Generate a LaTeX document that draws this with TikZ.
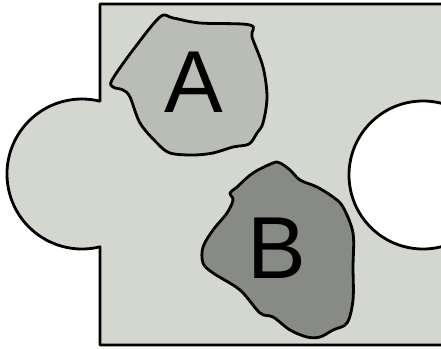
\documentclass[tikz,border=0pt]{standalone}
\usepackage{fontspec}
\setmainfont{Liberation Sans}
\definecolor{pieceC}{HTML}{D3D7CF}
\definecolor{blobA}{HTML}{BABDB6}
\definecolor{blobB}{HTML}{888A85}
\begin{document}
\begin{tikzpicture}[x=1pt,y=1pt,
  outl/.style={draw=black,line width=2.8pt,line join=round},
  lbl/.style={anchor=base,inner sep=0pt,font=\fontsize{88}{90}\selectfont}]
\useasboundingbox (0,0) rectangle (441,348);
\clip (0,0) rectangle (441,348);
% puzzle piece
\path[outl,fill=pieceC] (100,246.8) -- (100,344) -- (470,344) -- (470,3) -- (100,3) -- (100,101.2)
  arc[start angle=-76.1,end angle=-283.9,radius=75] -- cycle;
% hole
\path[outl,fill=white] (423,173) circle[radius=74];
% blob A
\path[outl,fill=blobA] plot[smooth cycle,tension=0.55] coordinates {
 (112,268) (133,298) (160,331) (173,330) (200,325) (250,323) (252,311) (263,281) (267,251)
 (263,225) (257,215) (249,204) (233,201) (213,195) (193,193) (170,195) (157,205) (140,225)
 (130,251) (123,258) (113,261)};
% blob B
\path[outl,fill=blobB] plot[smooth cycle,tension=0.55] coordinates {
 (273,185) (253,175) (237,161) (230,155) (233,148) (227,135) (213,118) (203,101) (203,85)
 (213,75) (240,58) (260,35) (273,31) (290,18) (307,11) (320,11) (333,18) (347,25) (353,48)
 (353,81) (353,115) (343,141) (333,151) (317,161) (300,168) (290,178) (280,185)};
\node[lbl] (A) at (194,235) {A};
\node[lbl] (B) at (277,70) {B};
\end{tikzpicture}
\end{document}
